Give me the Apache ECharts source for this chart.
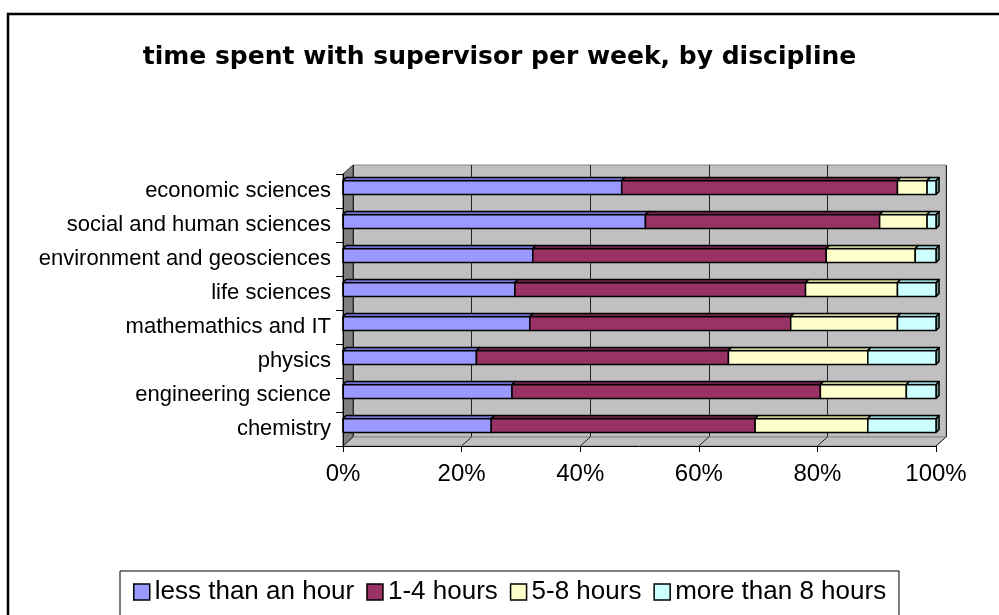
<!DOCTYPE html>
<html>
<head>
<meta charset="utf-8">
<title>time spent with supervisor per week, by discipline</title>
<script src="https://cdn.jsdelivr.net/npm/echarts@6/dist/echarts.min.js"></script>
<style>
	html, body { margin: 0; padding: 0; background: #fff; }
	#chart { width: 999px; height: 615px; }
</style>
</head>
<body>
<div id="chart"></div>
<script>
// categories, top to bottom as shown
var categories = ['economic sciences', 'social and human sciences', 'environment and geosciences',
	'life sciences', 'mathemathics and IT', 'physics', 'engineering science', 'chemistry'];
var lessThanHour = [47, 51, 32, 29, 31.5, 22.5, 28.5, 25];
var oneToFour = [46.5, 39.5, 49.5, 49, 44, 42.5, 52, 44.5];
var fiveToEight = [5, 8, 15, 15.5, 18, 23.5, 14.5, 19];
var moreThanEight = [1.5, 1.5, 3.5, 6.5, 6.5, 11.5, 5, 11.5];
var seriesNames = ['less than an hour', '1-4 hours', '5-8 hours', 'more than 8 hours'];
var xTicks = [0, 20, 40, 60, 80, 100];

var FONT = 'Liberation Sans, Arial, sans-serif';
var FRONT = { left: 343, top: 174, width: 593, height: 272 };
var DEPTH = { x: 10, y: -9 };

var colors = ['#9999FF', '#993366', '#FFFFCC', '#CCFFFF'];
var topColors = ['#7070CC', '#6A2347', '#CCCC99', '#99CCCC'];
var sideColors = ['#5C5CA8', '#5A1D3C', '#A8A87E', '#6E9999'];

function stackedData(k) {
	var all = [lessThanHour, oneToFour, fiveToEight, moreThanEight];
	return categories.map(function(c, i) {
		var start = 0;
		for (var j = 0; j < k; j++) start += all[j][i];
		return [start, start + all[k][i], i];
	});
}

// front face + top face + right side of one stacked segment
function makeRender(k) {
	return function(params, api) {
		var p0 = api.coord([api.value(0), api.value(2)]);
		var p1 = api.coord([api.value(1), api.value(2)]);
		var band = api.size([0, 1])[1];
		var h = band * 0.41, d = band * 0.09;
		var cy = p0[1] - band * 0.1;
		var top = cy - h / 2, bot = cy + h / 2;
		var line = { stroke: '#000', lineWidth: 1.5, lineJoin: 'round' };
		return {
			type: 'group',
			children: [{
				type: 'polygon',
				shape: { points: [[p1[0], top], [p1[0] + d, top - d], [p1[0] + d, bot - d], [p1[0], bot]] },
				style: Object.assign({ fill: sideColors[k] }, line)
			}, {
				type: 'polygon',
				shape: { points: [[p0[0], top], [p1[0], top], [p1[0] + d, top - d], [p0[0] + d, top - d]] },
				style: Object.assign({ fill: topColors[k] }, line)
			}, {
				type: 'rect',
				shape: { x: p0[0], y: top, width: p1[0] - p0[0], height: h },
				style: Object.assign({ fill: colors[k] }, line)
			}]
		};
	};
}

var myChart = echarts.init(document.getElementById('chart'));

var series = seriesNames.map(function(name, k) {
	return {
		name: name,
		type: 'custom',
		xAxisIndex: 0,
		yAxisIndex: 0,
		z: 4,
		itemStyle: { color: colors[k], borderColor: '#000', borderWidth: 1.5 },
		encode: { x: [0, 1], y: 2 },
		renderItem: makeRender(k),
		data: stackedData(k)
	};
});

var option = {
	animation: false,
	textStyle: { fontFamily: FONT },
	title: {
		text: 'time spent with supervisor per week, by discipline',
		left: 'center',
		top: 40,
		textStyle: { fontFamily: 'DejaVu Sans', fontSize: 25, fontWeight: 'bold', color: '#000' }
	},
	legend: {
		data: seriesNames,
		left: 128,
		top: 574,
		icon: 'rect',
		itemWidth: 16,
		itemHeight: 16,
		itemGap: 12,
		itemStyle: { borderColor: '#000', borderWidth: 1.5 },
		textStyle: { fontFamily: FONT, fontSize: 26, color: '#000' }
	},
	grid: [{
		left: FRONT.left, top: FRONT.top, width: FRONT.width, height: FRONT.height
	}, {
		left: FRONT.left + DEPTH.x, top: FRONT.top + DEPTH.y, width: FRONT.width, height: FRONT.height,
		show: true, backgroundColor: '#C0C0C0', borderColor: '#8A8A8A', borderWidth: 1
	}],
	xAxis: [{
		gridIndex: 0, type: 'value', min: 0, max: 100, interval: 20, z: 6,
		axisLine: { show: true, lineStyle: { color: '#000', width: 1 } },
		axisTick: { show: true, length: 6, lineStyle: { color: '#000' } },
		axisLabel: { formatter: '{value}%', fontFamily: FONT, fontSize: 24, color: '#000', margin: 16 },
		splitLine: { show: false }
	}, {
		gridIndex: 1, type: 'value', min: 0, max: 100, interval: 20,
		axisLine: { show: false }, axisTick: { show: false }, axisLabel: { show: false },
		splitLine: { show: true, lineStyle: { color: '#222', width: 1 } }
	}],
	yAxis: [{
		gridIndex: 0, type: 'category', data: categories, inverse: true, z: 6,
		axisLine: { show: true, lineStyle: { color: '#000', width: 1 } },
		axisTick: { show: true, length: 7, lineStyle: { color: '#000' } },
		axisLabel: { fontFamily: FONT, fontSize: 22, color: '#000', margin: 12 },
		splitLine: { show: false }
	}, {
		gridIndex: 1, type: 'category', data: categories, inverse: true,
		axisLine: { show: false }, axisTick: { show: false }, axisLabel: { show: false },
		splitLine: { show: false }
	}],
	series: series
};

myChart.setOption(option);

// walls, floor and frames drawn around the plot
function drawFrame() {
	var L = FRONT.left, T = FRONT.top, R = FRONT.left + FRONT.width, B = FRONT.top + FRONT.height;
	var dx = DEPTH.x, dy = DEPTH.y;
	var g = [];
	g.push({
		type: 'rect', z: 0,
		shape: { x: 8, y: 14, width: 1100, height: 800 },
		style: { fill: 'none', stroke: '#000', lineWidth: 2.5 }
	});
	g.push({
		type: 'polygon', z: 1,
		shape: { points: [[L, T], [L + dx, T + dy], [L + dx, B + dy], [L, B]] },
		style: { fill: '#808080', stroke: '#333', lineWidth: 1 }
	});
	g.push({
		type: 'polygon', z: 1,
		shape: { points: [[L, B], [L + dx, B + dy], [R + dx, B + dy], [R, B]] },
		style: { fill: '#C0C0C0', stroke: '#8A8A8A', lineWidth: 1 }
	});
	xTicks.forEach(function(v) {
		var x = myChart.convertToPixel({ xAxisIndex: 0 }, v);
		g.push({
			type: 'line', z: 2,
			shape: { x1: x, y1: B, x2: x + dx, y2: B + dy },
			style: { stroke: '#222', lineWidth: 1 }
		});
	});
	g.push({
		type: 'rect', z: 0,
		shape: { x: 120, y: 571, width: 779, height: 100 },
		style: { fill: '#fff', stroke: '#000', lineWidth: 1 }
	});
	myChart.setOption({ graphic: g });
}
drawFrame();

window.onresize = function() {
	myChart.resize();
	drawFrame();
};
</script>
</body>
</html>
